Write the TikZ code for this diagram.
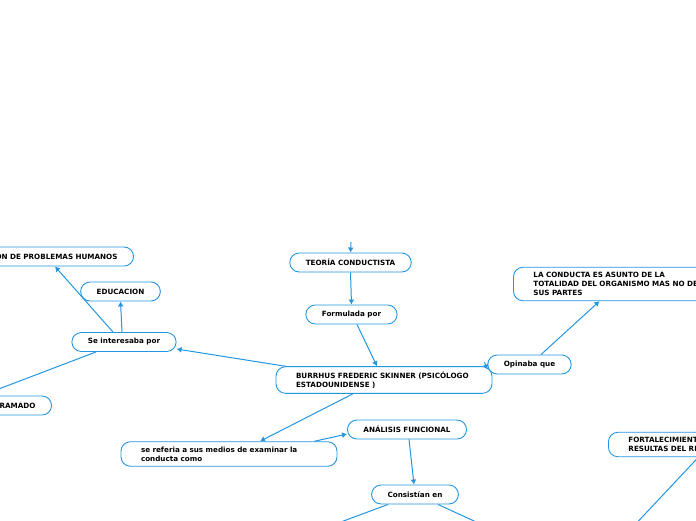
\documentclass[tikz,border=0pt]{standalone}
\usepackage{fontspec}
\setmainfont{DejaVu Sans}
\usetikzlibrary{arrows.meta}
\definecolor{mapblue}{RGB}{35,150,225}

\begin{document}
\begin{tikzpicture}[x=1pt, y=-1pt,
		idea/.style={draw=mapblue, line width=0.9pt, fill=white, rounded corners=9.5pt,
			font=\bfseries\fontsize{7.2}{9}\selectfont, inner xsep=16pt, inner ysep=3pt, minimum height=19pt},
		wide/.style={idea, align=left, text width=176pt, inner xsep=20pt, inner ysep=5pt},
		link/.style={mapblue, line width=1pt, -{Latex[length=5pt, width=6pt]}}]
		\useasboundingbox (0, 0) rectangle (696, 520);
		\clip (0, 0) rectangle (696, 520);
		% nodes
		\node [idea, anchor=east, text width=160pt, align=right] (probl) at (134, 256.5) {ON DE PROBLEMAS HUMANOS};
		\node [idea] (educ) at (120.5, 291.5) {EDUCACION};
		\node [idea] (inter) at (124, 342) {Se interesaba por};
		\node [idea, anchor=east, text width=108pt, align=right] (gram) at (52, 405.5) {GRAMADO\hspace*{-5pt}};
		\node [idea] (teoria) at (350.5, 262.5) {TEORÍA CONDUCTISTA};
		\node [idea] (formul) at (351.5, 314.5) {Formulada por};
		\node [wide] (skinner) at (384, 380) {BURRHUS FREDERIC SKINNER (PSICÓLOGO\\ESTADOUNIDENSE )};
		\node [idea] (opina) at (529.5, 364.5) {Opinaba que};
		\node [wide, anchor=west] (conducta) at (513, 284) {LA CONDUCTA ES ASUNTO DE LA\\TOTALIDAD DEL ORGANISMO MAS NO DE\\SUS PARTES};
		\node [idea] (analisis) at (407, 429.5) {ANÁLISIS FUNCIONAL};
		\node [wide] (referia) at (229, 454) {se referia a sus medios de examinar la\\conducta como};
		\node [idea] (consist) at (415, 494.5) {Consistían en};
		\node [wide, anchor=west] (fortal) at (608, 444.5) {FORTALECIMIENT\\RESULTAS DEL RI};
		\coordinate (top) at (351, 242);
		\coordinate (lowa) at (330, 526);
		\coordinate (lowb) at (485, 526);
		\coordinate (lowc) at (630, 530);
		% links
		\draw [link] (top) -- (teoria.north);
		\draw [link] (teoria.south) -- (formul.north);
		\draw [link] ([xshift=5.5pt]formul.south) -- ([xshift=-7pt]skinner.north);
		\draw [link] ([xshift=10pt]skinner.north west) -- ([yshift=-7pt]inter.east);
		\draw [link] ([xshift=-11pt]inter.north) -- ([xshift=-79pt]probl.south east);
		\draw [link] ([xshift=-2pt]inter.north) -- (educ.south);
		\draw [link] ([xshift=-28pt]inter.south) -- (gram.north);
		\draw [link] ([xshift=-8pt, yshift=4pt]skinner.north east) -- ([yshift=-5pt]opina.west);
		\draw [link] ([xshift=11.5pt]opina.north) -- ([xshift=-22pt]conducta.south);
		\draw [link] ([xshift=-31pt]skinner.south) -- ([xshift=31pt]referia.north);
		\draw [link] ([xshift=-23pt]referia.north east) -- ([yshift=-4.5pt]analisis.west);
		\draw [link] ([xshift=2pt]analisis.south) -- ([xshift=-1pt]consist.north);
		\draw [link] ([xshift=-27pt]consist.south) -- (lowa);
		\draw [link] ([xshift=23pt]consist.south) -- (lowb);
		\draw [link] ([xshift=-18pt]fortal.south) -- (lowc);
	\end{tikzpicture}
\end{document}
